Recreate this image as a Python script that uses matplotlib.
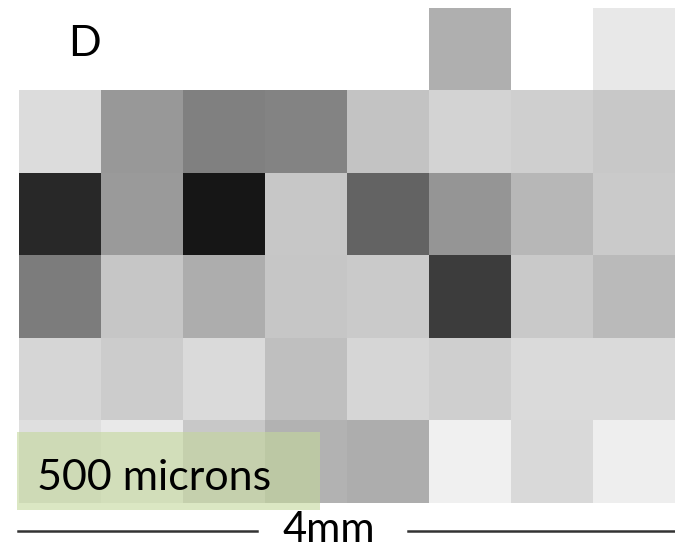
import numpy as np
import matplotlib.pyplot as plt
from matplotlib.patches import Rectangle
from matplotlib.lines import Line2D

W, H = 675, 550

# grey level (0 = black, 255 = white) for each 500 micron cell, top row first
row0 = [255, 255, 255, 255, 255, 175, 255, 232]
row1 = [220, 152, 128, 132, 196, 211, 207, 200]
row2 = [41, 154, 22, 199, 99, 149, 183, 202]
row3 = [124, 198, 173, 198, 202, 61, 201, 186]
row4 = [214, 204, 218, 191, 214, 207, 218, 218]
row5 = [223, 233, 200, 178, 173, 240, 217, 238]
grid = np.array([row0, row1, row2, row3, row4, row5])

panel_label = "D"
box_label = "500 microns"
scale_label = "4mm"

plt.rcParams['font.family'] = ['Lato', 'DejaVu Sans']

fig = plt.figure(figsize=(W / 100, H / 100), dpi=100)


def fx(x):
    return x / W


def fy(y):
    return 1 - y / H


ax = fig.add_axes([fx(19), fy(503), fx(675) - fx(19), fy(8) - fy(503)])
ax.imshow(grid, cmap="gray", vmin=0, vmax=255, aspect="auto", interpolation="nearest")
ax.set_axis_off()

fig.text(fx(68), fy(56), panel_label, fontsize=31, ha="left", va="baseline")

# green label box over the bottom-left cells
fig.patches.append(Rectangle((fx(17), fy(510)), fx(320) - fx(17), fy(432) - fy(510),
                             transform=fig.transFigure, facecolor="#c4d79b", alpha=0.6,
                             edgecolor="none", zorder=3))
fig.text(fx(37), fy(490), box_label, fontsize=31, ha="left", va="baseline", zorder=4)

# scale bar
fig.add_artist(Line2D([fx(18), fx(257)], [fy(531), fy(531)], color="#333333", lw=1.8))
fig.add_artist(Line2D([fx(408), fx(675)], [fy(531), fy(531)], color="#333333", lw=1.8))
fig.text(fx(329), fy(549), scale_label, fontsize=30, ha="center", va="bottom")

fig.savefig("out.png", dpi=100)
